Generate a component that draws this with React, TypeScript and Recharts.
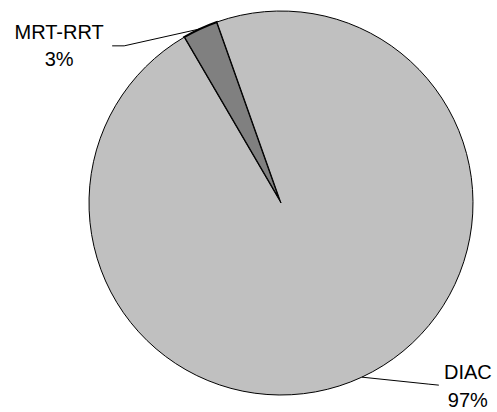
import React from "react";
import { PieChart, Pie, Cell } from "recharts";

const categories = ["MRT-RRT", "DIAC"];
const values = [3, 97];
const percentLabels = ["3%", "97%"];
const fills = ["#808080", "#c0c0c0"];
const strokeWidths = [2, 1];

const data = categories.map((name, i) => ({ name, value: values[i], pct: percentLabels[i] }));

// label layout offsets relative to the slice's outer mid point
const labelLayout: Record<string, { bend: [number, number]; end: [number, number]; text: [number, number] }> = {
  "MRT-RRT": { bend: [-76, 17], end: [-88, 17], text: [-141, 10] },
  DIAC: { bend: [67, 7], end: [77, 8], text: [106, 2] },
};

const RADIAN = Math.PI / 180;

const renderLabel = (props: any) => {
  const { cx, cy, midAngle, outerRadius, index } = props;
  const name = categories[index];
  const lay = labelLayout[name];
  const px = cx + outerRadius * Math.cos(-midAngle * RADIAN);
  const py = cy + outerRadius * Math.sin(-midAngle * RADIAN);
  const bx = px + lay.bend[0];
  const by = py + lay.bend[1];
  const ex = px + lay.end[0];
  const ey = py + lay.end[1];
  const tx = px + lay.text[0];
  const ty = py + lay.text[1];
  return (
    <g key={`lbl-${index}`}>
      <polyline points={`${px},${py} ${bx},${by} ${ex},${ey}`} fill="none" stroke="#000" strokeWidth={1} />
      <text x={tx} y={ty} textAnchor="middle" fontFamily="Liberation Sans, Arial, sans-serif" fontSize={20} fill="#000">
        <tspan x={tx} dy={0}>{name}</tspan>
        <tspan x={tx} dy={27.5}>{percentLabels[index]}</tspan>
      </text>
    </g>
  );
};

export default function App() {
  return (
    <div style={{ position: "absolute", left: 0, top: 0, width: 497, height: 412, background: "#fff" }}>
      <PieChart width={497} height={412} margin={{ top: 0, right: 0, bottom: 0, left: 0 }}>
        <Pie
          data={data}
          dataKey="value"
          nameKey="name"
          cx={281}
          cy={203}
          outerRadius={192}
          startAngle={109.5}
          endAngle={469.5}
          label={renderLabel}
          labelLine={false}
          isAnimationActive={false}
        >
          {data.map((d, i) => (
            <Cell key={d.name} fill={fills[i]} stroke="#000" strokeWidth={strokeWidths[i]} />
          ))}
        </Pie>
      </PieChart>
    </div>
  );
}
